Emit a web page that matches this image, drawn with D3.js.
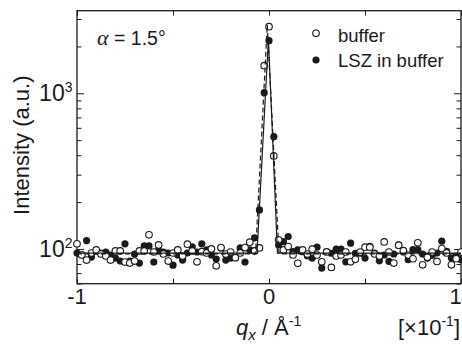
<!DOCTYPE html>
<html>
<head>
<meta charset="utf-8">
<script src="https://cdn.jsdelivr.net/npm/d3@7"></script>
<style>
  body { margin: 0; background: #fff; }
  svg { display: block; font-family: "Liberation Sans", Arial, sans-serif; }
</style>
</head>
<body>
<div id="chart"></div>
<script>
// ---- data ----
const qx = [
  -1, -0.975, -0.95, -0.925, -0.9, -0.875, -0.85, -0.825, -0.8, -0.775,
  -0.75, -0.725, -0.7, -0.675, -0.65, -0.625, -0.6, -0.575, -0.55, -0.525,
  -0.5, -0.475, -0.45, -0.425, -0.4, -0.375, -0.35, -0.325, -0.3, -0.275,
  -0.25, -0.225, -0.2, -0.175, -0.15, -0.125, -0.1, -0.075, -0.05, -0.025,
  0, 0.025, 0.05, 0.075, 0.1, 0.125, 0.15, 0.175, 0.2, 0.225,
  0.25, 0.275, 0.3, 0.325, 0.35, 0.375, 0.4, 0.425, 0.45, 0.475,
  0.5, 0.525, 0.55, 0.575, 0.6, 0.625, 0.65, 0.675, 0.7, 0.725,
  0.75, 0.775, 0.8, 0.825, 0.85, 0.875, 0.9, 0.925, 0.95, 0.975, 1
];
const buffer = [
  107.8, 91.4, 84.8, 94.2, 98.5, 92.8, 90.1, 84.8, 97.1, 97.1,
  82.3, 81.1, 83.6, 97.1, 97.1, 123.3, 95.6, 106.2, 92.8, 83.6,
  94.2, 98.5, 90.1, 107.3, 97.1, 82.7, 96.0, 94.2, 100, 77.9,
  102.0, 92.8, 95.6, 87.8, 94.2, 102.0, 110.5, 97.1, 101.5, 1504,
  2680, 396, 114.4, 98.5, 103.5, 91.4, 80.8, 98.5, 92.8, 99.6,
  91.4, 82.7, 95.6, 76.1, 90.1, 91.4, 95.6, 82.7, 85.7, 95.6,
  102.6, 102.6, 92.8, 90.1, 111.0, 95.6, 81.1, 105.7, 97.5, 91.4,
  86.5, 109.4, 79.1, 88.3, 95.6, 83.2, 100.5, 94.2, 79.1, 86.5, 95.6
];
const lsz = [
  94.2, 91.8, 113.2, 88.7, 97.1, 94.2, 95.6, 91.4, 87.4, 83.6,
  107.8, 83.6, 92.8, 81.1, 104.6, 104.6, 82.3, 97.5, 95.6, 94.2,
  78.7, 91.4, 84.8, 94.2, 103.0, 95.6, 107.8, 98.5, 91.4, 86.1,
  101.5, 84.8, 87.4, 87.8, 101.5, 82.3, 98.5, 117.9, 178, 1009,
  2178, 526, 106.2, 111.5, 120.2, 96.0, 98.5, 96.0, 90.1, 87.4,
  102.6, 75.3, 96.0, 93.8, 99.6, 99.6, 82.7, 108.9, 93.8, 93.8,
  87.4, 104.1, 94.2, 83.9, 91.4, 83.2, 92.8, 105.7, 95.6, 85.2,
  99.0, 99.0, 92.8, 87.4, 91.0, 94.2, 112.2, 96.6, 87.4, 89.7, 85.2
];
// fitted curves
const fitBufferX = [-1, -0.070, -0.009, 0.052, 1];
const fitBuffer  = [93, 93, 2750, 93, 93];
const fitLszX    = [-1, -0.0625, -0.003, 0.044, 1];
const fitLsz     = [94, 94, 2230, 94, 94];

const xTicks = [-1, -0.5, 0, 0.5, 1];
const xTickLabels = ["-1", "", "0", "", "1"];
const yMajor = [100, 1000];
const yExp = ["2", "3"];
const yMinor = [60, 70, 80, 90, 200, 300, 400, 500, 600, 700, 800, 900, 2000, 3000];
const legendNames = ["buffer", "LSZ in buffer"];

// ---- layout ----
const W = 462, H = 345;
const L = 77, R = 461, T = 10.7, B = 283.7;
const ink = "#1a1a1a";

const svg = d3.select("#chart").append("svg")
  .attr("width", W).attr("height", H);

const x = d3.scaleLinear().domain([-1, 1]).range([L, R]);
const y = d3.scaleLog().domain([59.8, 3393]).range([B, T]);

// ---- ticks (inside) ----
function styleAxis(g) {
  g.select(".domain").remove();
  g.selectAll("line").attr("stroke", ink).attr("stroke-width", 1);
}
svg.append("g").attr("transform", `translate(0,${B})`)
  .call(d3.axisBottom(x).tickValues(xTicks).tickSize(-5).tickFormat(""))
  .call(styleAxis);
svg.append("g").attr("transform", `translate(0,${T})`)
  .call(d3.axisTop(x).tickValues(xTicks).tickSize(-5).tickFormat(""))
  .call(styleAxis);
svg.append("g").attr("transform", `translate(${L},0)`)
  .call(d3.axisLeft(y).tickValues(yMajor).tickSize(-7).tickFormat(""))
  .call(styleAxis);
svg.append("g").attr("transform", `translate(${L},0)`)
  .call(d3.axisLeft(y).tickValues(yMinor).tickSize(-4.5).tickFormat(""))
  .call(styleAxis);
svg.append("g").attr("transform", `translate(${R},0)`)
  .call(d3.axisRight(y).tickValues(yMajor).tickSize(-7).tickFormat(""))
  .call(styleAxis);
svg.append("g").attr("transform", `translate(${R},0)`)
  .call(d3.axisRight(y).tickValues(yMinor).tickSize(-4.5).tickFormat(""))
  .call(styleAxis);

// frame
svg.append("rect")
  .attr("x", L).attr("y", T)
  .attr("width", R - L).attr("height", B - T)
  .attr("fill", "none").attr("stroke", ink).attr("stroke-width", 1.3);

// ---- tick labels ----
// the last label sits on the window edge; pull it in so it stays whole
svg.append("g").selectAll("text")
  .data(xTicks)
  .join("text")
  .attr("x", d => Math.min(x(d), W - 6.5))
  .attr("y", B + 20.5)
  .attr("text-anchor", "middle")
  .attr("font-size", 22)
  .attr("fill", ink)
  .text((d, i) => xTickLabels[i]);

const yl = svg.append("g").selectAll("text")
  .data(yMajor)
  .join("text")
  .attr("x", L - 4.5)
  .attr("y", d => y(d) + 7.8)
  .attr("text-anchor", "end")
  .attr("font-size", 23)
  .attr("fill", ink);
yl.append("tspan").text("10");
yl.append("tspan").attr("dy", -8.8).attr("font-size", 14).text((d, i) => yExp[i]);

// ---- markers ----
const pts = svg.append("g");
pts.selectAll("circle.lsz")
  .data(qx.map((q, i) => [q, lsz[i]]))
  .join("circle")
  .attr("class", "lsz")
  .attr("cx", d => x(d[0])).attr("cy", d => y(d[1]))
  .attr("r", 3.6)
  .attr("fill", ink);
pts.selectAll("circle.buf")
  .data(qx.map((q, i) => [q, buffer[i]]))
  .join("circle")
  .attr("class", "buf")
  .attr("cx", d => x(d[0])).attr("cy", d => y(d[1]))
  .attr("r", 3.3)
  .attr("fill", "#fff")
  .attr("stroke", ink)
  .attr("stroke-width", 1.1);

// ---- fitted lines ----
const line = d3.line().x(d => x(d[0])).y(d => y(d[1]));
svg.append("path")
  .datum(fitBufferX.map((q, i) => [q, fitBuffer[i]]))
  .attr("d", line)
  .attr("fill", "none").attr("stroke", ink)
  .attr("stroke-width", 1.2).attr("stroke-dasharray", "5,3");
svg.append("path")
  .datum(fitLszX.map((q, i) => [q, fitLsz[i]]))
  .attr("d", line)
  .attr("fill", "none").attr("stroke", ink)
  .attr("stroke-width", 1.2);

// ---- legend ----
const lg = svg.append("g");
lg.append("circle").attr("cx", 316).attr("cy", 33.3).attr("r", 3.3)
  .attr("fill", "#fff").attr("stroke", ink).attr("stroke-width", 1.1);
lg.append("circle").attr("cx", 316).attr("cy", 60).attr("r", 3.6)
  .attr("fill", ink);
lg.selectAll("text")
  .data(legendNames)
  .join("text")
  .attr("x", 338)
  .attr("y", (d, i) => i === 0 ? 41.5 : 66.7)
  .attr("font-size", 18.5)
  .attr("fill", ink)
  .text(d => d);

// ---- annotation ----
const ann = svg.append("text")
  .attr("x", 97).attr("y", 45)
  .attr("font-size", 19.5).attr("fill", ink);
ann.append("tspan")
  .attr("font-family", "'Liberation Serif', 'Times New Roman', serif")
  .attr("font-style", "italic").attr("font-size", 22).text("α");
ann.append("tspan").text(" = 1.5°");

// ---- axis titles ----
svg.append("text")
  .attr("transform", "rotate(-90)")
  .attr("x", -(T + B) / 2 + 2)
  .attr("y", 28.5)
  .attr("text-anchor", "middle")
  .attr("font-size", 22)
  .attr("fill", ink)
  .text("Intensity (a.u.)");

const xt = svg.append("text")
  .attr("x", 236).attr("y", 335)
  .attr("font-size", 22).attr("fill", ink);
xt.append("tspan").attr("font-style", "italic").text("q");
xt.append("tspan").attr("font-style", "italic").attr("font-size", 15).attr("dy", 5).text("x");
xt.append("tspan").attr("dy", -5).text("  / Å");
xt.append("tspan").attr("font-size", 14).attr("dy", -9).text("-1");

const xs = svg.append("text")
  .attr("x", 460).attr("y", 335)
  .attr("text-anchor", "end")
  .attr("font-size", 22).attr("fill", ink);
xs.append("tspan").text("[×10");
xs.append("tspan").attr("font-size", 14).attr("dy", -9).text("-1");
xs.append("tspan").attr("dy", 9).text("]");
</script>
</body>
</html>
